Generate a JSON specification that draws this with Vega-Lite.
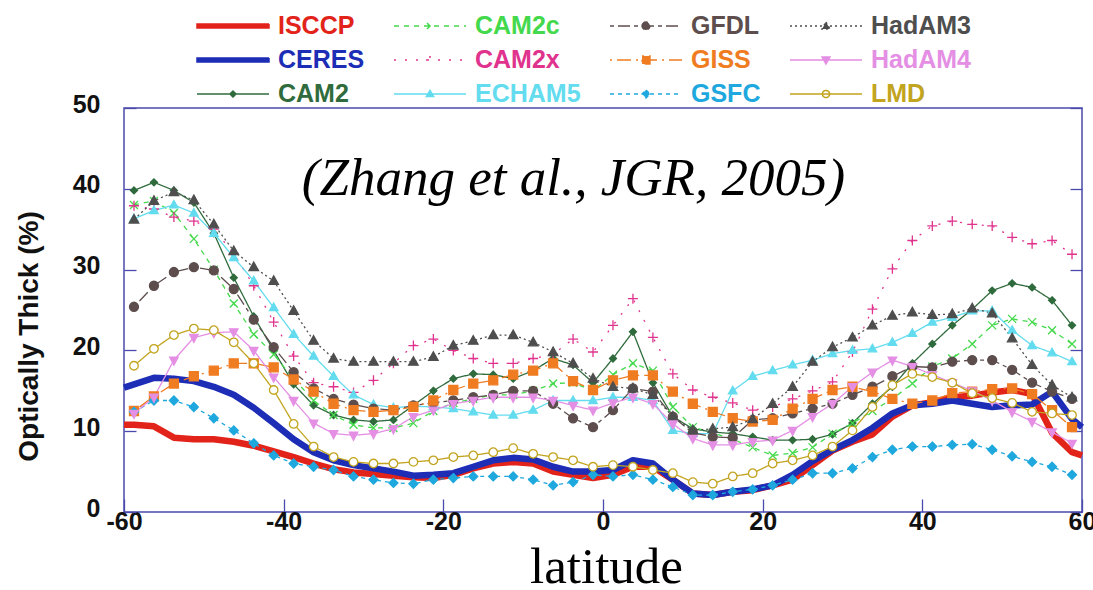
{
  "$schema": "https://vega.github.io/schema/vega-lite/v6.json",
  "width": 958,
  "height": 404,
  "autosize": {"type": "none"},
  "padding": {"left": 124, "top": 108, "right": 11, "bottom": 78},
  "background": "white",
  "config": {
    "view": {"stroke": "#4a4aad", "strokeWidth": 1.5},
    "axis": {"grid": false},
    "font": "Liberation Sans"
  },
  "params": [
    {"name": "lgShape", "value": {
      "ISCCP": "M-3,-0.17H3V0.17H-3Z",
      "CERES": "M-3,-0.17H3V0.17H-3Z",
      "CAM2": "M-3,0H3M0,-0.25L0.25,0L0,0.25L-0.25,0Z",
      "CAM2c": "M-3,0H3M-0.25,-0.25L0.25,0.25M-0.25,0.25L0.25,-0.25",
      "CAM2x": "M-3,0H3M-0.33,0H0.33M0,-0.33V0.33",
      "ECHAM5": "M-3,0H3M0,-0.3L0.3,0.2L-0.3,0.2Z",
      "GFDL": "M-3,0H3M0.33,0A0.33,0.33,0,1,1,-0.33,0A0.33,0.33,0,1,1,0.33,0Z",
      "GISS": "M-3,0H3M-0.33,-0.33H0.33V0.33H-0.33Z",
      "GSFC": "M-3,0H3M0,-0.33L0.33,0L0,0.33L-0.33,0Z",
      "HadAM3": "M-3,0H3M0,-0.33L0.33,0.25L-0.33,0.25Z",
      "HadAM4": "M-3,0H3M0,0.33L0.33,-0.25L-0.33,-0.25Z",
      "LMD": "M-3,0H3M0.3,0A0.3,0.3,0,1,1,-0.3,0A0.3,0.3,0,1,1,0.3,0Z"
    }},
    {"name": "lgDash", "value": {
      "ISCCP": [1, 0], "CERES": [1, 0], "CAM2": [1, 0], "CAM2c": [5, 5], "CAM2x": [2, 9], "ECHAM5": [1, 0],
      "GFDL": [4, 4, 12, 4], "GISS": [2, 5, 14, 5], "GSFC": [4, 4], "HadAM3": [2, 3], "HadAM4": [1, 0], "LMD": [1, 0]
    }}
  ],
  "datasets": {
    "main": [
      {"lat": -60, "ISCCP": 10.8, "CERES": 15.4},
      {"lat": -58.75, "ISCCP": 10.8, "CERES": 15.8, "CAM2": 39.8, "CAM2c": 38.0, "CAM2x": 37.9, "ECHAM5": 36.3, "GFDL": 25.4, "GISS": 12.5, "GSFC": 12.4, "HadAM3": 36.2, "HadAM4": 12.2, "LMD": 18.1},
      {"lat": -56.25, "ISCCP": 10.6, "CERES": 16.6, "CAM2": 40.8, "CAM2c": 38.5, "CAM2x": 37.5, "ECHAM5": 37.3, "GFDL": 28.0, "GISS": 14.3, "GSFC": 13.8, "HadAM3": 38.5, "HadAM4": 14.2, "LMD": 20.2},
      {"lat": -53.75, "ISCCP": 9.2, "CERES": 16.5, "CAM2": 39.8, "CAM2c": 37.0, "CAM2x": 36.5, "ECHAM5": 38.0, "GFDL": 29.7, "GISS": 15.9, "GSFC": 13.8, "HadAM3": 39.6, "HadAM4": 18.8, "LMD": 21.9},
      {"lat": -51.25, "ISCCP": 9.0, "CERES": 16.2, "CAM2": 38.3, "CAM2c": 33.8, "CAM2x": 36.0, "ECHAM5": 37.0, "GFDL": 30.3, "GISS": 16.8, "GSFC": 13.0, "HadAM3": 38.6, "HadAM4": 21.6, "LMD": 22.7},
      {"lat": -48.75, "ISCCP": 9.0, "CERES": 15.5, "CAM2": 34.5, "CAM2c": 30.0, "CAM2x": 35.0, "ECHAM5": 34.5, "GFDL": 29.9, "GISS": 17.5, "GSFC": 11.6, "HadAM3": 35.6, "HadAM4": 22.2, "LMD": 22.5},
      {"lat": -46.25, "ISCCP": 8.7, "CERES": 14.5, "CAM2": 29.0, "CAM2c": 25.8, "CAM2x": 32.0, "ECHAM5": 31.5, "GFDL": 27.6, "GISS": 18.4, "GSFC": 10.1, "HadAM3": 32.3, "HadAM4": 22.3, "LMD": 21.0},
      {"lat": -43.75, "ISCCP": 8.2, "CERES": 12.9, "CAM2": 24.2, "CAM2c": 22.0, "CAM2x": 28.0, "ECHAM5": 28.6, "GFDL": 23.8, "GISS": 18.4, "GSFC": 8.5, "HadAM3": 30.3, "HadAM4": 20.0, "LMD": 18.4},
      {"lat": -41.25, "ISCCP": 7.5, "CERES": 11.0, "CAM2": 20.0, "CAM2c": 19.5, "CAM2x": 23.5, "ECHAM5": 25.3, "GFDL": 20.4, "GISS": 17.9, "GSFC": 7.0, "HadAM3": 28.6, "HadAM4": 16.7, "LMD": 15.1},
      {"lat": -38.75, "ISCCP": 6.8, "CERES": 9.0, "CAM2": 15.8, "CAM2c": 16.5, "CAM2x": 19.3, "ECHAM5": 22.0, "GFDL": 17.3, "GISS": 16.4, "GSFC": 6.0, "HadAM3": 24.9, "HadAM4": 13.8, "LMD": 10.9},
      {"lat": -36.25, "ISCCP": 6.0, "CERES": 7.4, "CAM2": 13.2, "CAM2c": 13.8, "CAM2x": 16.0, "ECHAM5": 19.3, "GFDL": 15.3, "GISS": 14.9, "GSFC": 5.6, "HadAM3": 21.2, "HadAM4": 11.0, "LMD": 8.1},
      {"lat": -33.75, "ISCCP": 5.3, "CERES": 6.4, "CAM2": 12.0, "CAM2c": 12.0, "CAM2x": 15.5, "ECHAM5": 16.8, "GFDL": 14.0, "GISS": 13.4, "GSFC": 5.2, "HadAM3": 19.0, "HadAM4": 9.7, "LMD": 6.8},
      {"lat": -31.25, "ISCCP": 4.9, "CERES": 5.8, "CAM2": 11.4, "CAM2c": 10.8, "CAM2x": 14.8, "ECHAM5": 14.5, "GFDL": 13.3, "GISS": 12.6, "GSFC": 4.4, "HadAM3": 18.6, "HadAM4": 9.5, "LMD": 6.2},
      {"lat": -28.75, "ISCCP": 4.7, "CERES": 5.4, "CAM2": 11.2, "CAM2c": 10.4, "CAM2x": 16.3, "ECHAM5": 13.3, "GFDL": 12.8, "GISS": 12.4, "GSFC": 4.0, "HadAM3": 18.6, "HadAM4": 9.7, "LMD": 6.0},
      {"lat": -26.25, "ISCCP": 4.5, "CERES": 5.0, "CAM2": 11.4, "CAM2c": 10.4, "CAM2x": 18.4, "ECHAM5": 12.9, "GFDL": 12.6, "GISS": 12.6, "GSFC": 3.6, "HadAM3": 18.6, "HadAM4": 10.3, "LMD": 6.0},
      {"lat": -23.75, "ISCCP": 4.3, "CERES": 4.5, "CAM2": 13.2, "CAM2c": 11.0, "CAM2x": 20.6, "ECHAM5": 13.1, "GFDL": 13.2, "GISS": 13.0, "GSFC": 3.5, "HadAM3": 18.6, "HadAM4": 11.8, "LMD": 6.2},
      {"lat": -21.25, "ISCCP": 4.2, "CERES": 4.6, "CAM2": 15.0, "CAM2c": 12.5, "CAM2x": 21.4, "ECHAM5": 13.0, "GFDL": 13.5, "GISS": 13.8, "GSFC": 4.0, "HadAM3": 19.2, "HadAM4": 12.6, "LMD": 6.4},
      {"lat": -18.75, "ISCCP": 4.6, "CERES": 4.8, "CAM2": 16.5, "CAM2c": 13.5, "CAM2x": 20.0, "ECHAM5": 12.8, "GFDL": 13.8, "GISS": 15.1, "GSFC": 4.2, "HadAM3": 20.6, "HadAM4": 13.4, "LMD": 6.8},
      {"lat": -16.25, "ISCCP": 5.4, "CERES": 5.6, "CAM2": 17.1, "CAM2c": 14.0, "CAM2x": 19.0, "ECHAM5": 12.4, "GFDL": 14.2, "GISS": 15.9, "GSFC": 4.4, "HadAM3": 21.2, "HadAM4": 13.8, "LMD": 7.0},
      {"lat": -13.75, "ISCCP": 6.0, "CERES": 6.4, "CAM2": 17.0, "CAM2c": 14.5, "CAM2x": 18.4, "ECHAM5": 12.0, "GFDL": 14.5, "GISS": 16.3, "GSFC": 4.4, "HadAM3": 21.9, "HadAM4": 14.2, "LMD": 7.4},
      {"lat": -11.25, "ISCCP": 6.2, "CERES": 6.7, "CAM2": 16.5, "CAM2c": 14.5, "CAM2x": 18.4, "ECHAM5": 12.0, "GFDL": 15.0, "GISS": 17.0, "GSFC": 4.4, "HadAM3": 21.9, "HadAM4": 14.2, "LMD": 7.9},
      {"lat": -8.75, "ISCCP": 6.0, "CERES": 6.5, "CAM2": 17.5, "CAM2c": 15.0, "CAM2x": 19.0, "ECHAM5": 12.6, "GFDL": 15.0, "GISS": 17.5, "GSFC": 4.0, "HadAM3": 21.0, "HadAM4": 14.2, "LMD": 7.2},
      {"lat": -6.25, "ISCCP": 5.0, "CERES": 5.6, "CAM2": 19.0, "CAM2c": 15.9, "CAM2x": 19.5, "ECHAM5": 13.8, "GFDL": 13.4, "GISS": 18.4, "GSFC": 3.3, "HadAM3": 19.8, "HadAM4": 13.8, "LMD": 6.8},
      {"lat": -3.75, "ISCCP": 4.6, "CERES": 5.0, "CAM2": 18.2, "CAM2c": 16.0, "CAM2x": 21.4, "ECHAM5": 13.8, "GFDL": 11.6, "GISS": 16.2, "GSFC": 3.7, "HadAM3": 18.4, "HadAM4": 13.2, "LMD": 6.4},
      {"lat": -1.25, "ISCCP": 4.2, "CERES": 5.0, "CAM2": 16.0, "CAM2c": 15.0, "CAM2x": 19.8, "ECHAM5": 13.8, "GFDL": 10.5, "GISS": 15.1, "GSFC": 4.6, "HadAM3": 16.5, "HadAM4": 12.6, "LMD": 5.6},
      {"lat": 1.25, "ISCCP": 4.6, "CERES": 5.2, "CAM2": 19.0, "CAM2c": 17.0, "CAM2x": 23.1, "ECHAM5": 14.2, "GFDL": 12.6, "GISS": 16.3, "GSFC": 4.4, "HadAM3": 15.5, "HadAM4": 13.5, "LMD": 5.8},
      {"lat": 3.75, "ISCCP": 5.6, "CERES": 6.4, "CAM2": 22.3, "CAM2c": 18.4, "CAM2x": 26.4, "ECHAM5": 14.2, "GFDL": 15.3, "GISS": 16.9, "GSFC": 4.6, "HadAM3": 15.3, "HadAM4": 14.2, "LMD": 5.6},
      {"lat": 6.25, "ISCCP": 5.6, "CERES": 6.0, "CAM2": 16.0, "CAM2c": 17.5, "CAM2x": 21.6, "ECHAM5": 13.8, "GFDL": 14.9, "GISS": 16.9, "GSFC": 4.0, "HadAM3": 14.5, "HadAM4": 13.4, "LMD": 5.2},
      {"lat": 8.75, "ISCCP": 4.0, "CERES": 4.0, "CAM2": 11.8, "CAM2c": 13.0, "CAM2x": 17.1, "ECHAM5": 10.1, "GFDL": 11.8, "GISS": 14.9, "GSFC": 3.1, "HadAM3": 11.8, "HadAM4": 10.9, "LMD": 4.8},
      {"lat": 11.25, "ISCCP": 2.3, "CERES": 2.3, "CAM2": 10.3, "CAM2c": 10.5, "CAM2x": 15.1, "ECHAM5": 9.7, "GFDL": 9.8, "GISS": 13.4, "GSFC": 2.1, "HadAM3": 10.1, "HadAM4": 9.1, "LMD": 3.7},
      {"lat": 13.75, "ISCCP": 2.1, "CERES": 2.1, "CAM2": 9.9, "CAM2c": 9.8, "CAM2x": 14.2, "ECHAM5": 9.7, "GFDL": 9.3, "GISS": 12.4, "GSFC": 2.1, "HadAM3": 10.3, "HadAM4": 8.3, "LMD": 3.5},
      {"lat": 16.25, "ISCCP": 2.5, "CERES": 2.5, "CAM2": 9.7, "CAM2c": 9.0, "CAM2x": 13.5, "ECHAM5": 15.0, "GFDL": 9.2, "GISS": 11.6, "GSFC": 2.5, "HadAM3": 10.5, "HadAM4": 8.3, "LMD": 4.4},
      {"lat": 18.75, "ISCCP": 2.7, "CERES": 2.8, "CAM2": 9.3, "CAM2c": 8.0, "CAM2x": 12.6, "ECHAM5": 16.8, "GFDL": 11.4, "GISS": 11.2, "GSFC": 2.8, "HadAM3": 11.5, "HadAM4": 8.7, "LMD": 4.8},
      {"lat": 21.25, "ISCCP": 3.3, "CERES": 3.3, "CAM2": 8.9, "CAM2c": 7.0, "CAM2x": 13.0, "ECHAM5": 17.5, "GFDL": 11.6, "GISS": 11.4, "GSFC": 3.3, "HadAM3": 13.4, "HadAM4": 8.9, "LMD": 6.0},
      {"lat": 23.75, "ISCCP": 4.0, "CERES": 4.6, "CAM2": 8.9, "CAM2c": 7.3, "CAM2x": 14.0, "ECHAM5": 18.2, "GFDL": 12.2, "GISS": 12.8, "GSFC": 4.0, "HadAM3": 15.5, "HadAM4": 10.1, "LMD": 6.4},
      {"lat": 26.25, "ISCCP": 5.8, "CERES": 6.3, "CAM2": 9.0, "CAM2c": 8.0, "CAM2x": 15.0, "ECHAM5": 18.8, "GFDL": 12.8, "GISS": 14.0, "GSFC": 4.8, "HadAM3": 18.6, "HadAM4": 11.8, "LMD": 7.0},
      {"lat": 28.75, "ISCCP": 7.6, "CERES": 7.7, "CAM2": 9.6, "CAM2c": 9.7, "CAM2x": 16.1, "ECHAM5": 19.6, "GFDL": 13.4, "GISS": 15.1, "GSFC": 4.8, "HadAM3": 20.4, "HadAM4": 13.4, "LMD": 8.1},
      {"lat": 31.25, "ISCCP": 8.7, "CERES": 8.9, "CAM2": 11.0, "CAM2c": 11.0, "CAM2x": 19.8, "ECHAM5": 20.0, "GFDL": 14.5, "GISS": 15.5, "GSFC": 5.4, "HadAM3": 21.6, "HadAM4": 15.5, "LMD": 10.1},
      {"lat": 33.75, "ISCCP": 9.6, "CERES": 10.4, "CAM2": 13.4, "CAM2c": 12.5, "CAM2x": 25.1, "ECHAM5": 20.2, "GFDL": 15.5, "GISS": 14.9, "GSFC": 6.8, "HadAM3": 23.1, "HadAM4": 17.3, "LMD": 13.0},
      {"lat": 36.25, "ISCCP": 11.8, "CERES": 12.2, "CAM2": 15.5, "CAM2c": 14.0, "CAM2x": 30.1, "ECHAM5": 21.0, "GFDL": 16.8, "GISS": 14.0, "GSFC": 7.7, "HadAM3": 24.3, "HadAM4": 18.8, "LMD": 15.7},
      {"lat": 38.75, "ISCCP": 13.2, "CERES": 13.2, "CAM2": 18.4, "CAM2c": 15.9, "CAM2x": 33.6, "ECHAM5": 22.1, "GFDL": 18.0, "GISS": 13.4, "GSFC": 8.1, "HadAM3": 24.7, "HadAM4": 18.0, "LMD": 17.1},
      {"lat": 41.25, "ISCCP": 13.6, "CERES": 13.4, "CAM2": 20.8, "CAM2c": 18.0, "CAM2x": 35.4, "ECHAM5": 23.5, "GFDL": 17.9, "GISS": 13.8, "GSFC": 8.1, "HadAM3": 24.4, "HadAM4": 17.0, "LMD": 16.7},
      {"lat": 43.75, "ISCCP": 14.2, "CERES": 13.8, "CAM2": 23.1, "CAM2c": 19.0, "CAM2x": 36.0, "ECHAM5": 24.1, "GFDL": 18.6, "GISS": 14.7, "GSFC": 8.3, "HadAM3": 24.5, "HadAM4": 16.0, "LMD": 16.0},
      {"lat": 46.25, "ISCCP": 14.4, "CERES": 13.4, "CAM2": 25.1, "CAM2c": 20.8, "CAM2x": 35.6, "ECHAM5": 24.9, "GFDL": 18.8, "GISS": 14.9, "GSFC": 8.4, "HadAM3": 25.2, "HadAM4": 15.0, "LMD": 14.7},
      {"lat": 48.75, "ISCCP": 14.8, "CERES": 13.0, "CAM2": 27.4, "CAM2c": 23.1, "CAM2x": 35.4, "ECHAM5": 24.9, "GFDL": 18.8, "GISS": 15.2, "GSFC": 7.7, "HadAM3": 24.6, "HadAM4": 13.8, "LMD": 14.1},
      {"lat": 51.25, "ISCCP": 15.1, "CERES": 13.2, "CAM2": 28.3, "CAM2c": 23.9, "CAM2x": 34.0, "ECHAM5": 22.5, "GFDL": 17.6, "GISS": 15.3, "GSFC": 6.9, "HadAM3": 21.5, "HadAM4": 12.4, "LMD": 13.5},
      {"lat": 53.75, "ISCCP": 14.6, "CERES": 13.3, "CAM2": 27.8, "CAM2c": 23.5, "CAM2x": 33.2, "ECHAM5": 20.6, "GFDL": 16.0, "GISS": 14.6, "GSFC": 6.2, "HadAM3": 18.2, "HadAM4": 11.2, "LMD": 12.4},
      {"lat": 56.25, "ISCCP": 9.8, "CERES": 14.9, "CAM2": 26.2, "CAM2c": 22.5, "CAM2x": 33.6, "ECHAM5": 19.7, "GFDL": 14.9, "GISS": 12.6, "GSFC": 5.6, "HadAM3": 15.7, "HadAM4": 9.9, "LMD": 12.2},
      {"lat": 58.75, "ISCCP": 7.4, "CERES": 11.5, "CAM2": 23.1, "CAM2c": 20.8, "CAM2x": 31.9, "ECHAM5": 18.6, "GFDL": 14.0, "GISS": 10.5, "GSFC": 4.6, "HadAM3": 14.2, "HadAM4": 8.5, "LMD": 12.0},
      {"lat": 60, "ISCCP": 7.0, "CERES": 10.5}
    ],
    "note": [{"t": "(Zhang et al., JGR, 2005)"}]
  },
  "layer": [
    {
      "data": {"name": "main"},
      "transform": [
        {"fold": ["ISCCP", "CERES", "CAM2", "CAM2c", "CAM2x", "ECHAM5", "GFDL", "GISS", "GSFC", "HadAM3", "HadAM4", "LMD"], "as": ["model", "v"]},
        {"filter": "isValid(datum.v)"},
        {"filter": "datum.model === 'ISCCP' || datum.model === 'CERES'"}
      ],
      "mark": {"type": "line", "strokeWidth": 6.5, "strokeJoin": "round"},
      "encoding": {
        "x": {
          "field": "lat", "type": "quantitative",
          "scale": {"domain": [-60, 60], "nice": false, "zero": false},
          "axis": {
            "title": "latitude",
            "values": [-60, -40, -20, 0, 20, 40, 60],
            "labelExpr": "datum.value",
            "labelFont": "Liberation Sans", "labelFontWeight": "bold", "labelFontSize": 25, "labelColor": "#111111",
            "labelFlush": false, "labelOverlap": false, "labelBound": false,
            "labelPadding": 10, "labelBaseline": "top",
            "tickSize": -13, "tickColor": "#4a4aad", "tickWidth": 1.3,
            "domain": false, "grid": false,
            "titleFont": "Liberation Serif", "titleFontSize": 51, "titleFontWeight": "normal", "titleColor": "#000000",
            "titleBaseline": "alphabetic", "titleAlign": "center", "titleX": 482, "titleY": 70
          }
        },
        "y": {
          "field": "v", "type": "quantitative",
          "scale": {"domain": [0, 50], "nice": false},
          "axis": {
            "title": "Optically Thick (%)",
            "values": [0, 10, 20, 30, 40, 50],
            "labelFont": "Liberation Sans", "labelFontWeight": "bold", "labelFontSize": 25, "labelColor": "#111111",
            "labelPadding": 36, "labelOffset": -4, "labelFlush": false, "labelOverlap": false,
            "tickSize": -12, "tickColor": "#4a4aad", "tickWidth": 1.3,
            "domain": false, "grid": false,
            "titleFont": "Liberation Sans", "titleFontWeight": "bold", "titleFontSize": 28, "titleColor": "#111111",
            "titleAngle": -90, "titleAlign": "center", "titleBaseline": "middle", "titleX": -95, "titleY": 228
          }
        },
        "color": {
          "field": "model", "type": "nominal",
          "scale": {
            "domain": ["ISCCP", "CERES", "CAM2", "CAM2c", "CAM2x", "ECHAM5", "GFDL", "GISS", "GSFC", "HadAM3", "HadAM4", "LMD"],
            "range": ["#e2231a", "#1d2db5", "#2f6b3c", "#44d94c", "#e0338e", "#62dcee", "#5d4d4d", "#f07c22", "#1ea8de", "#4e4e4e", "#e48fe4", "#c2a41f"]
          },
          "legend": {
            "orient": "none", "legendX": 96, "legendY": -95,
            "columns": 4, "title": null, "padding": 0,
            "symbolSize": 576, "symbolOffset": 0, "symbolStrokeWidth": 1.5,
            "labelFont": "Liberation Sans", "labelFontWeight": "bold", "labelFontSize": 25,
            "labelOffset": 32, "labelLimit": 300,
            "columnPadding": 26, "rowPadding": 8, "gridAlign": "each",
            "encode": {
              "symbols": {"update": {
                "shape": {"signal": "lgShape[datum.value]"},
                "strokeDash": {"signal": "lgDash[datum.value]"},
                "stroke": {"scale": "color", "field": "value"},
                "fill": {"signal": "datum.value === 'LMD' ? 'white' : scale('color', datum.value)"},
                "opacity": {"value": 1}
              }},
              "labels": {"update": {
                "fill": {"scale": "color", "field": "value"}
              }}
            }
          }
        }
      }
    },
    {
      "data": {"name": "main"},
      "transform": [
        {"fold": ["ISCCP", "CERES", "CAM2", "CAM2c", "CAM2x", "ECHAM5", "GFDL", "GISS", "GSFC", "HadAM3", "HadAM4", "LMD"], "as": ["model", "v"]},
        {"filter": "isValid(datum.v)"},
        {"filter": "datum.model !== 'ISCCP' && datum.model !== 'CERES'"}
      ],
      "mark": {"type": "line", "strokeWidth": 1.3},
      "encoding": {
        "x": {"field": "lat", "type": "quantitative", "axis": null},
        "y": {"field": "v", "type": "quantitative", "axis": null},
        "color": {
          "field": "model", "type": "nominal",
          "scale": {
            "domain": ["ISCCP", "CERES", "CAM2", "CAM2c", "CAM2x", "ECHAM5", "GFDL", "GISS", "GSFC", "HadAM3", "HadAM4", "LMD"],
            "range": ["#e2231a", "#1d2db5", "#2f6b3c", "#44d94c", "#e0338e", "#62dcee", "#5d4d4d", "#f07c22", "#1ea8de", "#4e4e4e", "#e48fe4", "#c2a41f"]
          },
          "legend": null
        },
        "strokeDash": {
          "field": "model", "type": "nominal",
          "scale": {
            "domain": ["CAM2", "CAM2c", "CAM2x", "ECHAM5", "GFDL", "GISS", "GSFC", "HadAM3", "HadAM4", "LMD"],
            "range": [[1, 0], [5, 5], [2, 9], [1, 0], [4, 4, 12, 4], [2, 5, 14, 5], [4, 4], [2, 3], [1, 0], [1, 0]]
          },
          "legend": null
        }
      }
    },
    {
      "data": {"name": "main"},
      "transform": [
        {"fold": ["ISCCP", "CERES", "CAM2", "CAM2c", "CAM2x", "ECHAM5", "GFDL", "GISS", "GSFC", "HadAM3", "HadAM4", "LMD"], "as": ["model", "v"]},
        {"filter": "isValid(datum.v)"},
        {"filter": "datum.model !== 'ISCCP' && datum.model !== 'CERES'"}
      ],
      "mark": {"type": "point", "filled": false, "strokeWidth": 1.3, "opacity": 1, "size": 100},
      "encoding": {
        "x": {"field": "lat", "type": "quantitative", "axis": null},
        "y": {"field": "v", "type": "quantitative", "axis": null},
        "shape": {
          "field": "model", "type": "nominal",
          "scale": {
            "domain": ["CAM2", "CAM2c", "CAM2x", "ECHAM5", "GFDL", "GISS", "GSFC", "HadAM3", "HadAM4", "LMD"],
            "range": [
              "M0,-0.7L0.7,0L0,0.7L-0.7,0Z",
              "M-0.8,-0.8L0.8,0.8M-0.8,0.8L0.8,-0.8",
              "M-1,0H1M0,-1V1",
              "M0,-0.9L0.85,0.6L-0.85,0.6Z",
              "M0.9,0A0.9,0.9,0,1,1,-0.9,0A0.9,0.9,0,1,1,0.9,0Z",
              "M-0.9,-0.9H0.9V0.9H-0.9Z",
              "M0,-0.9L0.9,0L0,0.9L-0.9,0Z",
              "M0,-1L0.95,0.7L-0.95,0.7Z",
              "M0,1L0.85,-0.6L-0.85,-0.6Z",
              "M0.85,0A0.85,0.85,0,1,1,-0.85,0A0.85,0.85,0,1,1,0.85,0Z"
            ]
          },
          "legend": null
        },
        "stroke": {
          "field": "model", "type": "nominal",
          "scale": {
            "domain": ["CAM2", "CAM2c", "CAM2x", "ECHAM5", "GFDL", "GISS", "GSFC", "HadAM3", "HadAM4", "LMD"],
            "range": ["#2f6b3c", "#44d94c", "#e0338e", "#62dcee", "#5d4d4d", "#f07c22", "#1ea8de", "#4e4e4e", "#e48fe4", "#c2a41f"]
          },
          "legend": null
        },
        "fill": {
          "field": "model", "type": "nominal",
          "scale": {
            "domain": ["CAM2", "CAM2c", "CAM2x", "ECHAM5", "GFDL", "GISS", "GSFC", "HadAM3", "HadAM4", "LMD"],
            "range": ["#2f6b3c", "#44d94c", "#e0338e", "#62dcee", "#5d4d4d", "#f07c22", "#1ea8de", "#4e4e4e", "#e48fe4", "#ffffff"]
          },
          "legend": null
        }
      }
    },
    {
      "data": {"name": "note"},
      "mark": {"type": "text", "font": "Liberation Serif", "fontStyle": "italic", "fontSize": 53, "align": "center", "baseline": "alphabetic", "color": "#000000"},
      "encoding": {
        "x": {"datum": -3.7, "type": "quantitative", "axis": null},
        "y": {"datum": 39.2, "type": "quantitative", "axis": null},
        "text": {"field": "t", "type": "nominal"}
      }
    },
    {
      "data": {"name": "main"},
      "transform": [
        {"fold": ["ISCCP", "CERES"], "as": ["model", "v"]}
      ],
      "mark": {"type": "point", "opacity": 0},
      "encoding": {
        "x": {"field": "lat", "type": "quantitative", "axis": null},
        "y": {
          "field": "v", "type": "quantitative",
          "axis": {"orient": "right", "labels": false, "title": null, "domain": false, "grid": false,
                   "values": [0, 10, 20, 30, 40, 50], "tickSize": -12, "tickColor": "#4a4aad", "tickWidth": 1.3}
        }
      }
    }
  ],
  "resolve": {"axis": {"x": "independent", "y": "independent"}}
}
